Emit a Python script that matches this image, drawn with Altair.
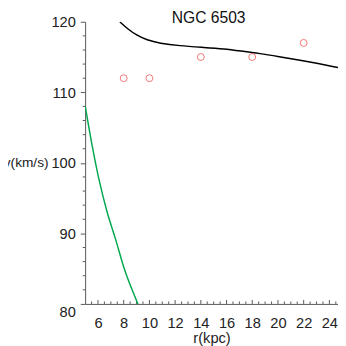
import altair as alt
import pandas as pd

FONT = "Liberation Sans, Arial, Helvetica, sans-serif"

# observed rotation velocities (red circles)
obs_r = [8, 10, 14, 18, 22]
obs_v = [112, 112, 115, 115, 117]

# total model curve (black)
model_r = [7.7, 8.3, 9.0, 9.8, 10.8, 12.3, 14.3, 15.8, 17.1, 18.6, 20.1, 21.6, 23.1, 24.7]
model_v = [120.0, 119.0, 118.1, 117.4, 116.95, 116.6, 116.35, 116.15, 115.85, 115.5, 115.05, 114.6, 114.1, 113.5]

# green component curve
green_r = [5.0, 5.55, 6.06, 6.7, 7.33, 8.08, 9.1, 9.4]
green_v = [108.1, 102.4, 97.8, 93.1, 89.4, 84.8, 80.0, 78.6]

# axis ticks / labels
x_labels = [6, 8, 10, 12, 14, 16, 18, 20, 22, 24]
x_minor = [5.5, 6.5, 7, 7.5, 8.5, 9, 9.5, 10.5, 11, 11.5, 12.5, 13, 13.5,
           14.5, 15, 15.5, 16.5, 17, 17.5, 18.5, 19, 19.5, 20.5, 21, 21.5,
           22.5, 23, 23.5, 24.5]
y_labels = [80, 90, 100, 110, 120]
y_minor = [82, 84, 86, 88, 92, 94, 96, 98, 102, 104, 106, 108, 112, 114, 116, 118]

x_domain = [5, 24.67]
y_domain = [80, 120]

AX = "#555555"
TXT = "#222222"
FS = 15

xs = alt.Scale(domain=x_domain, nice=False, zero=False)
ys = alt.Scale(domain=y_domain, nice=False, zero=False)

x_axis = alt.Axis(values=x_labels, ticks=False, tickSize=0, labelPadding=12,
                  domain=True, domainColor=AX, labelFont=FONT, labelFontSize=FS,
                  labelColor=TXT, labelFlush=False, labelOverlap=False, grid=False,
                  title="r(kpc)", titleFont=FONT, titleFontSize=FS,
                  titleFontWeight="normal", titleColor=TXT,
                  titleBaseline="alphabetic", titleY=40)
y_axis = alt.Axis(values=y_labels, ticks=True, tickSize=5, tickColor=AX, labelPadding=5,
                  labelOffset={"condition": {"test": "datum.value == 80", "value": 8}, "value": 0},
                  domain=True, domainColor=AX, labelFont=FONT, labelFontSize=FS,
                  labelColor=TXT, labelFlush=False, labelOverlap=False, grid=False,
                  title="v(km/s)", titleFont=FONT, titleFontSize=14,
                  titleFontWeight="normal", titleColor=TXT, titleAngle=0,
                  titleAlign="right", titleBaseline="middle", titleX=-38, titleY=144.5)

model_df = pd.DataFrame({"r": model_r, "v": model_v})
green_df = pd.DataFrame({"r": green_r, "v": green_v})
obs_df = pd.DataFrame({"r": obs_r, "v": obs_v})
xmaj_df = pd.DataFrame({"t": x_labels})
xmin_df = pd.DataFrame({"t": x_minor})
ymin_df = pd.DataFrame({"t": y_minor})


def X(field):
    return alt.X(field, scale=xs, axis=x_axis)


def Y(field):
    return alt.Y(field, scale=ys, axis=y_axis)


model = alt.Chart(model_df).mark_line(color="black", strokeWidth=1.5, clip=True,
                                       interpolate="basis").encode(
    x=X("r:Q"), y=Y("v:Q"))
green = alt.Chart(green_df).mark_line(color="#00a84f", strokeWidth=1.5, clip=True,
                                       interpolate="monotone").encode(
    x=X("r:Q"), y=Y("v:Q"))
points = alt.Chart(obs_df).mark_point(shape="circle", filled=False, color="#f03c3c",
                                      size=50, strokeWidth=1).encode(
    x=X("r:Q"), y=Y("v:Q"))
xmaj = alt.Chart(xmaj_df).mark_rule(color=AX, strokeWidth=1, y2Offset=-4).encode(
    x=X("t:Q"),
    y=alt.Y(datum=80, scale=ys, axis=y_axis), y2=alt.Y2(datum=80))
xmin = alt.Chart(xmin_df).mark_rule(color=AX, strokeWidth=1, y2Offset=-2.5).encode(
    x=X("t:Q"),
    y=alt.Y(datum=80, scale=ys, axis=y_axis), y2=alt.Y2(datum=80))
ymin = alt.Chart(ymin_df).mark_rule(color=AX, strokeWidth=1, x2Offset=-2.5).encode(
    y=Y("t:Q"),
    x=alt.X(datum=5, scale=xs, axis=x_axis), x2=alt.X2(datum=5))

chart = alt.layer(xmaj, xmin, ymin, green, model, points).properties(
    width=259, height=289,
    padding={"left": 79, "top": 10, "right": 0, "bottom": 39},
    autosize="none",
    background="white",
    title=alt.TitleParams("NGC 6503", font=FONT, fontSize=16, fontWeight="normal",
                          color="#111111", anchor="middle", baseline="alphabetic",
                          frame="group", offset=-24, dx=-3),
).configure_view(stroke=None)

chart.save("out.html", embed_options={"renderer": "svg", "actions": False})
